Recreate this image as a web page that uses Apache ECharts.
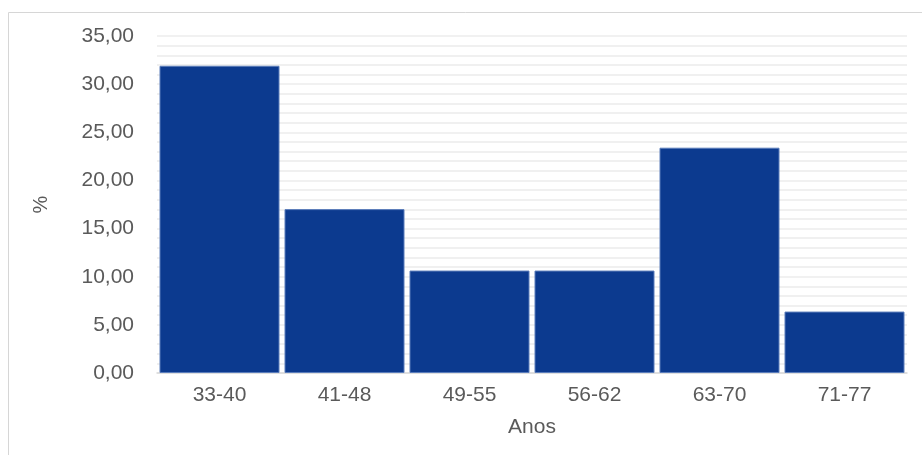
<!DOCTYPE html>
<html><head><meta charset="utf-8">
<script src="https://cdn.jsdelivr.net/npm/echarts@6/dist/echarts.min.js"></script>
<style>html,body{margin:0;padding:0;background:#fff}#c{width:922px;height:455px}</style>
</head><body><div id="c"></div>
<script>
var categories = ['33-40','41-48','49-55','56-62','63-70','71-77'];
var values = [31.91, 17.02, 10.64, 10.64, 23.40, 6.38];
var yTitle = '%';
var xTitle = 'Anos';

var chart = echarts.init(document.getElementById('c'), null, {renderer:'canvas'});
chart.setOption({
  animation:false,
  graphic:[{type:'rect', shape:{x:8.5,y:12.5,width:930,height:460}, style:{fill:'none', stroke:'#d6d6d6', lineWidth:1}, z:-1}],
  grid:{left:157, right:15, top:36, bottom:82},
  xAxis:{type:'category', data:categories,
    name:xTitle, nameLocation:'middle', nameGap:44,
    nameTextStyle:{color:'#5a5a5a', fontSize:21, fontFamily:'Liberation Sans'},
    axisLine:{lineStyle:{color:'#d9d9d9', width:1.5}},
    axisTick:{show:false},
    axisLabel:{color:'#5a5a5a', fontSize:21, fontFamily:'Liberation Sans', margin:12}},
  yAxis:{type:'value', min:0, max:35, interval:5,
    name:yTitle, nameLocation:'middle', nameGap:106, nameRotate:90,
    nameTextStyle:{color:'#5a5a5a', fontSize:20, fontFamily:'Liberation Sans'},
    axisLine:{show:false}, axisTick:{show:false},
    axisLabel:{color:'#5a5a5a', fontSize:21, fontFamily:'Liberation Sans', margin:23,
      formatter:function(v){return v.toFixed(2).replace('.',',');}},
    splitLine:{lineStyle:{color:'#ececec', width:1.5}},
    minorTick:{show:false, splitNumber:5},
    minorSplitLine:{show:true, lineStyle:{color:'#ececec', width:1.5}}},
  series:[{type:'bar', data:values, barCategoryGap:'4%',
    itemStyle:{color:'#0c3a8f', borderColor:'#5b7dbb', borderWidth:1}}]
});
</script></body></html>
